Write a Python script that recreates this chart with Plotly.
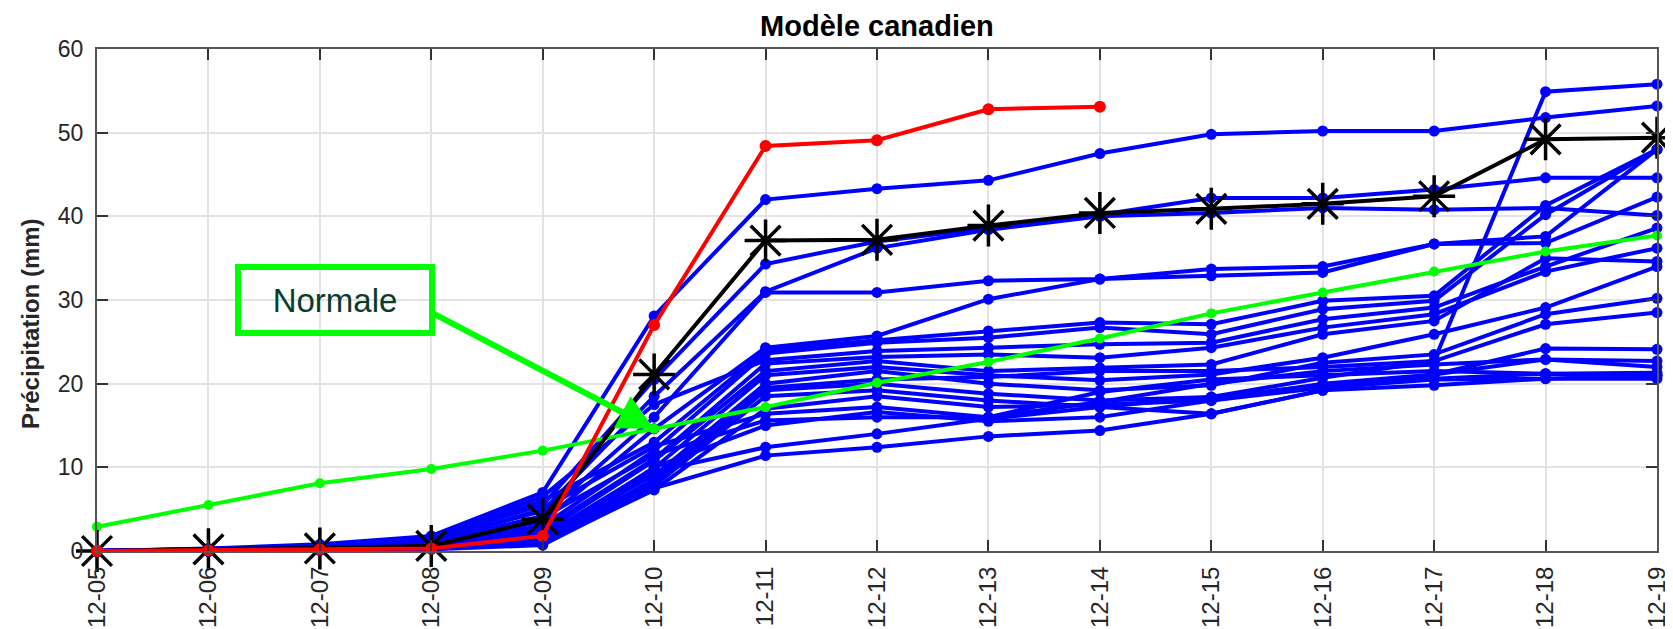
import plotly.graph_objects as go

dates = ["12-05", "12-06", "12-07", "12-08", "12-09", "12-10", "12-11", "12-12",
         "12-13", "12-14", "12-15", "12-16", "12-17", "12-18", "12-19"]

# Ensemble members (blue), cumulative precipitation in mm
member_a = [0.0, 0.3, 0.8, 1.8, 7.0, 28.1, 42.0, 43.3, 44.3, 47.5, 49.8, 50.2, 50.2, 51.8, 53.2]
member_b = [0.0, 0.2, 0.6, 1.5, 5.5, 20.5, 34.3, 37.0, 38.6, 40.2, 42.2, 42.2, 43.2, 44.6, 44.6]
member_c = [0.0, 0.2, 0.5, 1.2, 4.8, 18.5, 31.0, 36.2, 38.4, 40.0, 40.4, 41.0, 40.8, 41.0, 40.1]
member_d = [0.0, 0.1, 0.4, 1.0, 4.2, 16.0, 30.9, 30.9, 32.3, 32.5, 33.7, 34.0, 36.7, 36.8, 42.3]
member_e = [0.0, 0.1, 0.3, 0.9, 3.5, 14.6, 24.3, 25.7, 30.1, 32.5, 32.9, 33.3, 36.7, 37.6, 48.0]
member_f = [0.0, 0.2, 0.5, 1.4, 6.0, 13.0, 24.0, 25.2, 26.3, 27.3, 27.1, 29.9, 30.5, 41.3, 48.0]
member_g = [0.0, 0.1, 0.3, 0.8, 3.0, 12.0, 23.6, 24.9, 25.5, 26.7, 25.9, 28.9, 29.9, 40.2, 48.0]
member_h = [0.0, 0.2, 0.6, 1.6, 6.5, 17.5, 22.8, 23.9, 24.3, 24.7, 24.9, 27.7, 29.1, 34.0, 38.6]
member_i = [0.0, 0.1, 0.3, 0.7, 2.6, 11.0, 22.4, 23.2, 23.5, 23.1, 24.3, 26.7, 28.3, 33.4, 36.2]
member_j = [0.0, 0.1, 0.2, 0.6, 2.2, 10.8, 21.5, 22.7, 21.5, 21.9, 22.3, 25.9, 27.5, 35.0, 34.6]
member_k = [0.0, 0.0, 0.2, 0.5, 1.8, 9.9, 21.0, 22.0, 21.0, 20.4, 21.1, 23.1, 25.9, 29.1, 34.0]
member_l = [0.0, 0.1, 0.3, 0.6, 2.0, 9.0, 20.0, 21.5, 20.0, 19.2, 19.8, 22.5, 23.5, 28.3, 30.2]
member_s = [0.0, 0.0, 0.1, 0.4, 1.4, 8.5, 19.5, 20.5, 20.8, 21.5, 21.5, 22.0, 22.7, 54.9, 55.8]
member_m = [0.0, 0.0, 0.2, 0.5, 1.6, 8.0, 19.2, 20.0, 18.8, 18.0, 18.4, 20.7, 22.7, 27.1, 28.5]
member_n = [0.0, 0.0, 0.1, 0.3, 1.1, 7.8, 18.5, 19.2, 18.0, 17.2, 16.4, 19.2, 21.1, 24.2, 24.1]
member_o = [0.0, 0.0, 0.1, 0.3, 0.9, 7.3, 17.0, 18.5, 17.2, 17.5, 18.0, 20.0, 21.1, 22.9, 22.7]
member_p = [0.0, 0.1, 0.4, 1.1, 5.0, 12.5, 16.4, 17.2, 16.0, 17.8, 20.0, 21.5, 22.3, 22.9, 22.0]
member_q = [0.0, 0.1, 0.3, 0.9, 4.0, 11.5, 15.6, 16.0, 16.0, 19.0, 20.5, 21.0, 21.5, 21.2, 21.3]
member_r = [0.0, 0.0, 0.2, 0.4, 1.2, 10.0, 15.0, 16.6, 15.5, 16.0, 18.0, 19.5, 20.5, 20.6, 21.0]
member_t = [0.0, 0.0, 0.1, 0.3, 0.8, 9.5, 12.4, 14.0, 15.8, 17.2, 18.4, 19.8, 20.6, 21.2, 21.0]
member_u = [0.0, 0.0, 0.1, 0.2, 0.7, 7.5, 11.4, 12.4, 13.7, 14.4, 16.4, 19.2, 19.8, 20.6, 20.6]

members = [member_a, member_b, member_c, member_d, member_e, member_f, member_g,
           member_h, member_i, member_j, member_k, member_l, member_s, member_m,
           member_n, member_o, member_p, member_q, member_r, member_t, member_u]

observed = [0.0, 0.1, 0.2, 0.3, 1.8, 27.0, 48.4, 49.1, 52.8, 53.1]          # red
ens_black = [0.0, 0.2, 0.3, 0.6, 3.8, 21.1, 37.1, 37.2, 38.9, 40.4, 40.9, 41.5, 42.4, 49.2, 49.4]
normal = [2.9, 5.5, 8.1, 9.8, 12.0, 14.6, 17.2, 20.1, 22.6, 25.4, 28.4, 30.9, 33.4, 35.8, 37.7]

title_text = "Modèle canadien"
y_title = "Précipitation (mm)"
label_normal = "Normale"
y_ticks = [0, 10, 20, 30, 40, 50, 60]

FONT = "Liberation Sans, Arial, Helvetica, sans-serif"

fig = go.Figure()

for vals in members:
    fig.add_trace(go.Scatter(
        x=dates, y=vals, mode="lines+markers",
        line=dict(color="#0000FF", width=4),
        marker=dict(color="#0000FF", size=11, symbol="circle"),
        cliponaxis=False, showlegend=False, hoverinfo="skip"))

fig.add_trace(go.Scatter(
    x=dates, y=normal, mode="lines+markers",
    line=dict(color="#00FF00", width=4),
    marker=dict(color="#00FF00", size=10),
    cliponaxis=False, showlegend=False))

fig.add_trace(go.Scatter(
    x=dates, y=ens_black, mode="lines+markers",
    line=dict(color="#000000", width=4),
    marker=dict(symbol="asterisk-open", size=35, color="#000000",
                line=dict(color="#000000", width=3.5)),
    cliponaxis=False, showlegend=False))

fig.add_trace(go.Scatter(
    x=dates[:len(observed)], y=observed, mode="lines+markers",
    line=dict(color="#FF0000", width=4),
    marker=dict(color="#FF0000", size=12),
    cliponaxis=False, showlegend=False))

# "Normale" label box
fig.add_annotation(
    xref="paper", yref="paper", x=0.1525, y=0.5,
    xanchor="center", yanchor="middle",
    text=label_normal, showarrow=False,
    font=dict(family=FONT, size=33, color="#083D2B"),
    bgcolor="rgba(255,255,255,0)", bordercolor="#00FF00", borderwidth=6,
    borderpad=0, width=188, height=60)

# Arrow to the normal curve
fig.add_annotation(
    x=5, y=normal[5], xref="x", yref="y",
    text="", showarrow=True, arrowhead=2, arrowsize=1.2, arrowwidth=6,
    arrowcolor="#00FF00", ax=-224, ay=-117, standoff=0)

# Y-axis title (as rotated annotation for exact placement)
fig.add_annotation(
    xref="paper", yref="paper", x=0, y=0.452, xshift=-67,
    xanchor="center", yanchor="middle", textangle=-90,
    text="<b>" + y_title + "</b>", showarrow=False,
    font=dict(family=FONT, size=24, color="#262626"))

fig.update_layout(
    width=1673, height=629,
    margin=dict(l=89, r=24, t=41, b=86),
    paper_bgcolor="white", plot_bgcolor="white",
    font=dict(family=FONT, color="#262626"),
    title=dict(text="<b>" + title_text + "</b>", x=0.5194, xanchor="center",
               y=0.971, yanchor="middle",
               font=dict(family=FONT, size=29, color="#000000")),
)

fig.update_xaxes(
    type="category", range=[0, 14], tickangle=-90, automargin=False,
    tickfont=dict(family=FONT, size=24, color="#262626"),
    showgrid=True, gridcolor="#e3e3e3", gridwidth=1.5,
    ticks="inside", ticklen=11, tickwidth=1.5, tickcolor="#333333",
    showline=True, linecolor="#555555", linewidth=2, mirror="ticks",
    ticklabelstandoff=4, zeroline=False)

fig.update_yaxes(
    range=[0, 60], tickvals=y_ticks, automargin=False,
    tickfont=dict(family=FONT, size=23, color="#262626"),
    showgrid=True, gridcolor="#e3e3e3", gridwidth=1.5,
    ticks="inside", ticklen=11, tickwidth=1.5, tickcolor="#333333",
    showline=True, linecolor="#555555", linewidth=2, mirror="ticks",
    ticklabelstandoff=7, zeroline=False)

fig.write_html("out.html")
